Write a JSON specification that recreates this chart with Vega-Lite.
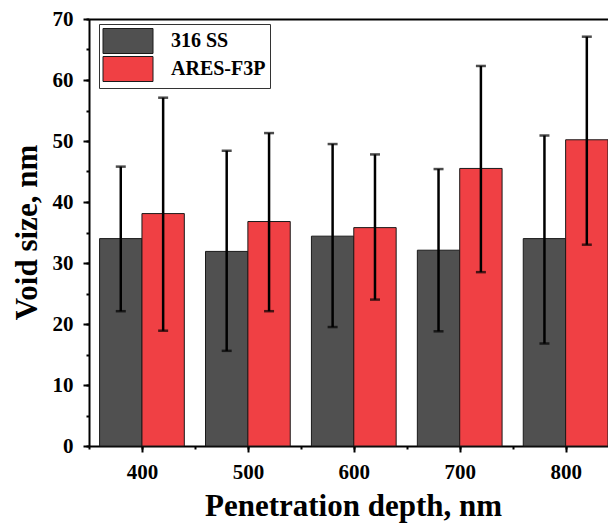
{
  "$schema": "https://vega.github.io/schema/vega-lite/v6.json",
  "width": 519,
  "height": 427,
  "autosize": {"type": "none"},
  "padding": {"left": 89, "top": 19, "right": 0, "bottom": 83},
  "background": "white",
  "config": {
    "view": {"stroke": null},
    "font": "Liberation Serif",
    "axis": {
      "domainColor": "black",
      "domainWidth": 2,
      "tickColor": "black",
      "tickWidth": 2,
      "grid": false,
      "labelFont": "Liberation Serif",
      "labelFontWeight": "bold",
      "labelFontSize": 21,
      "labelColor": "black",
      "titleFont": "Liberation Serif",
      "titleFontWeight": "bold",
      "titleFontSize": 31,
      "titleColor": "black",
      "labelOverlap": false
    }
  },
  "data": {
    "values": [
      {"depth": 400, "series": "316 SS", "value": 34.0, "lo": 22.1, "hi": 45.8},
      {"depth": 400, "series": "ARES-F3P", "value": 38.1, "lo": 18.9, "hi": 57.1},
      {"depth": 500, "series": "316 SS", "value": 31.9, "lo": 15.6, "hi": 48.4},
      {"depth": 500, "series": "ARES-F3P", "value": 36.8, "lo": 22.1, "hi": 51.3},
      {"depth": 600, "series": "316 SS", "value": 34.4, "lo": 19.5, "hi": 49.5},
      {"depth": 600, "series": "ARES-F3P", "value": 35.8, "lo": 24.0, "hi": 47.8},
      {"depth": 700, "series": "316 SS", "value": 32.1, "lo": 18.8, "hi": 45.4},
      {"depth": 700, "series": "ARES-F3P", "value": 45.5, "lo": 28.5, "hi": 62.3},
      {"depth": 800, "series": "316 SS", "value": 34.0, "lo": 16.8, "hi": 50.9},
      {"depth": 800, "series": "ARES-F3P", "value": 50.2, "lo": 33.0, "hi": 67.1}
    ]
  },
  "transform": [
    {"calculate": "datum.series === '316 SS' ? datum.depth - 40 : datum.depth", "as": "x0"},
    {"calculate": "datum.x0 + 40", "as": "x1"},
    {"calculate": "datum.x0 + 20", "as": "xc"}
  ],
  "layer": [
    {
      "mark": {"type": "bar", "stroke": "#1a1a1a", "strokeWidth": 1},
      "encoding": {
        "x": {
          "field": "x0", "type": "quantitative",
          "scale": {"domain": [350, 840], "nice": false, "zero": false},
          "axis": {
            "orient": "bottom",
            "values": [350, 400, 450, 500, 550, 600, 650, 700, 750, 800],
            "labelExpr": "datum.value % 100 === 0 ? datum.label : ''",
            "tickSize": 3,
            "labelPadding": 12,
            "labelFlush": false,
            "title": "Penetration depth, nm",
            "titleX": 264,
            "titleY": 69,
            "titleBaseline": "alphabetic",
            "titleAnchor": "middle"
          }
        },
        "x2": {"field": "x1"},
        "y": {
          "field": "value", "type": "quantitative",
          "scale": {"domain": [0, 70], "nice": false},
          "axis": {
            "orient": "left",
            "values": [0, 5, 10, 15, 20, 25, 30, 35, 40, 45, 50, 55, 60, 65, 70],
            "labelExpr": "datum.value % 10 === 0 ? datum.label : ''",
            "tickSize": 3,
            "labelPadding": 13,
            "title": "Void size, nm",
            "titleX": -46,
            "titleY": 213,
            "titleAngle": -90,
            "titleBaseline": "bottom",
            "titleAlign": "center"
          }
        },
        "y2": {"datum": 0},
        "color": {
          "field": "series", "type": "nominal",
          "scale": {"domain": ["316 SS", "ARES-F3P"], "range": ["#505050", "#f04044"]},
          "legend": {
            "title": null,
            "orient": "none",
            "legendX": 10,
            "legendY": 5,
            "padding": 4,
            "strokeColor": "#333333",
            "fillColor": "white",
            "symbolType": "M-2,-1H2V1H-2Z",
            "symbolSize": 625,
            "symbolOffset": 12,
            "symbolStrokeColor": "#1a1a1a",
            "symbolStrokeWidth": 1,
            "symbolOpacity": 1,
            "labelFont": "Liberation Serif",
            "labelFontWeight": "bold",
            "labelFontSize": 20,
            "labelColor": "black",
            "labelOffset": 30,
            "rowPadding": -3
          }
        }
      }
    },
    {
      "mark": {"type": "rule", "color": "black", "strokeWidth": 2.5},
      "encoding": {
        "x": {
          "field": "xc", "type": "quantitative",
          "scale": {"domain": [350, 840], "nice": false, "zero": false},
          "axis": {"orient": "top", "labels": false, "ticks": false, "domain": true, "title": null}
        },
        "y": {"field": "lo", "type": "quantitative", "axis": null},
        "y2": {"field": "hi"}
      }
    },
    {
      "mark": {"type": "tick", "orient": "horizontal", "color": "black", "size": 10, "thickness": 2.5},
      "encoding": {
        "x": {
          "field": "xc", "type": "quantitative",
          "scale": {"domain": [350, 840], "nice": false, "zero": false},
          "axis": {"orient": "bottom", "values": [400, 500, 600, 700, 800], "tickSize": 6, "labels": false, "domain": false, "title": null}
        },
        "y": {
          "field": "hi", "type": "quantitative",
          "axis": {"orient": "left", "values": [0, 10, 20, 30, 40, 50, 60, 70], "tickSize": 6, "labels": false, "domain": false, "title": null}
        }
      }
    },
    {
      "mark": {"type": "tick", "orient": "horizontal", "color": "black", "size": 10, "thickness": 2.5},
      "encoding": {
        "x": {"field": "xc", "type": "quantitative", "scale": {"domain": [350, 840], "nice": false, "zero": false}, "axis": null},
        "y": {"field": "lo", "type": "quantitative", "axis": null}
      }
    }
  ],
  "resolve": {"axis": {"x": "independent", "y": "independent"}}
}
